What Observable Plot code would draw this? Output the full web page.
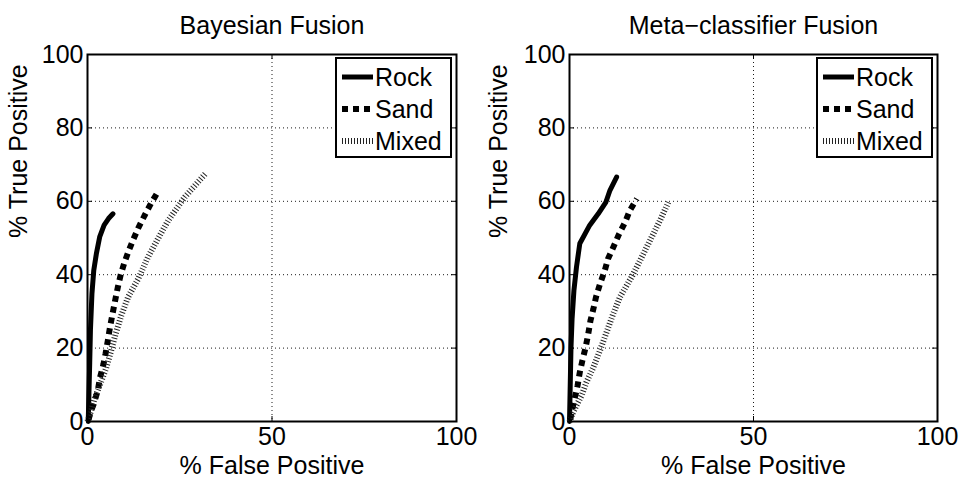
<!DOCTYPE html>
<html>
<head>
<meta charset="utf-8">
<script src="https://cdn.jsdelivr.net/npm/d3@7"></script>
<script src="https://cdn.jsdelivr.net/npm/@observablehq/plot@0.6"></script>
<style>
  html, body { margin: 0; padding: 0; background: white; }
  #wrap { display: flex; width: 960px; height: 477px; }
  .panel { position: relative; width: 480px; height: 477px; }
  .legend { position: absolute; }
  svg { display: block; }
</style>
</head>
<body>
<div id="wrap"></div>
<script>
// ---------- data ----------
const titles = ["Bayesian Fusion", "Meta\u2212classifier Fusion"];
const seriesNames = ["Rock", "Sand", "Mixed"];
const xTicks = [0, 50, 100];
const yTicks = [0, 20, 40, 60, 80, 100];
const xGrid = [50];
const yGrid = [20, 40, 60, 80];
const xLabel = "% False Positive";
const yLabel = "% True Positive";

// Bayesian Fusion
const bayesRockX  = [0.2, 0.4, 0.6, 0.8, 1.2, 1.7, 2.4, 3.3, 4.5, 5.7, 6.9];
const bayesRockY  = [0, 8, 16, 25, 34.8, 41.2, 45.7, 50.3, 53.5, 55.3, 56.6];
const bayesSandX  = [0.3, 0.8, 1.7, 2.8, 3.4, 4.3, 4.9, 5.5, 6.1, 6.8, 7.5, 8.2, 9.0, 10.0, 11.2, 12.4, 13.8, 15.4, 17.2, 19.2];
const bayesSandY  = [0.5, 2.5, 4.8, 8.5, 12.0, 15.5, 18.5, 22.0, 25.7, 29.4, 33.0, 36.5, 40.0, 43.3, 46.6, 49.6, 52.8, 56.0, 59.4, 62.8];
const bayesMixedX = [0, 1.0, 1.9, 3.3, 5.0, 6.3, 7.6, 9.2, 11.0, 13.7, 16.4, 19.2, 21.9, 26.4, 31.9];
const bayesMixedY = [0, 3.0, 6.2, 9.8, 14.4, 18.9, 23.8, 29.0, 33.9, 38.8, 44.8, 50.0, 54.8, 61.2, 67.5];

// Meta-classifier Fusion
const metaRockX  = [0, 0.2, 0.4, 0.7, 1.2, 1.9, 2.8, 5.5, 7.8, 9.9, 11.0, 12.8];
const metaRockY  = [0, 10, 20, 28, 35.7, 42.1, 48.5, 53.5, 56.6, 59.8, 63.0, 66.6];
const metaSandX  = [0.2, 0.8, 1.4, 2.2, 2.8, 3.5, 4.4, 5.1, 5.7, 6.5, 7.2, 8.3, 9.6, 10.5, 11.9, 13.3, 15.1, 16.4, 18.3];
const metaSandY  = [0.5, 3.5, 6.2, 9.8, 13.4, 16.6, 20.3, 23.9, 27.5, 30.7, 33.9, 37.5, 41.2, 44.4, 47.5, 50.7, 54.3, 57.5, 60.7];
const metaMixedX = [0, 0.8, 1.9, 3.3, 4.6, 6.5, 8.3, 10.1, 11.9, 13.7, 16.9, 19.2, 21.9, 24.6, 26.9];
const metaMixedY = [0, 2.1, 4.4, 7.1, 10.7, 14.8, 19.4, 24.4, 29.4, 33.9, 39.4, 43.9, 49.4, 54.8, 59.8];

// ---------- build ----------
const zip = (xs, ys) => xs.map((x, i) => ({x, y: ys[i]}));
const panels = [
  {title: titles[0], series: [zip(bayesRockX, bayesRockY), zip(bayesSandX, bayesSandY), zip(bayesMixedX, bayesMixedY)], ml: 87, mr: 24},
  {title: titles[1], series: [zip(metaRockX, metaRockY), zip(metaSandX, metaSandY), zip(metaMixedX, metaMixedY)], ml: 89, mr: 23}
];

const W = 480, H = 477, MT = 54, MB = 56;
const FONT = "'Liberation Sans', Arial, Helvetica, sans-serif";
const styles = [
  {stroke: "black", strokeWidth: 5, strokeLinecap: "round", strokeLinejoin: "round"},
  {stroke: "black", strokeWidth: 6, strokeDasharray: "6 5", strokeLinecap: "butt", strokeLinejoin: "round"},
  {stroke: "#222", strokeWidth: 6, strokeDasharray: "1 2", strokeLinecap: "butt", strokeLinejoin: "round"}
];

const wrap = document.getElementById("wrap");
for (const p of panels) {
  const innerW = W - p.ml - p.mr, innerH = H - MT - MB;
  const tick = 5;
  const chart = Plot.plot({
    width: W, height: H,
    marginLeft: p.ml, marginRight: p.mr, marginTop: MT, marginBottom: MB,
    x: {domain: [0, 100]},
    y: {domain: [0, 100]},
    style: {fontFamily: FONT, fontSize: "25px", color: "black", background: "white"},
    marks: [
      Plot.ruleX(xGrid, {x: d => d, stroke: "black", strokeWidth: 1, strokeDasharray: "1 3", strokeOpacity: 0.9}),
      Plot.ruleY(yGrid, {y: d => d, stroke: "black", strokeWidth: 1, strokeDasharray: "1 3", strokeOpacity: 0.9}),
      // inward ticks
      Plot.tickY(yTicks, {y: d => d, insetRight: innerW - tick, stroke: "black"}),
      Plot.tickY(yTicks, {y: d => d, insetLeft: innerW - tick, stroke: "black"}),
      Plot.tickX(xTicks, {x: d => d, insetTop: innerH - tick, stroke: "black"}),
      Plot.tickX(xTicks, {x: d => d, insetBottom: innerH - tick, stroke: "black"}),
      ...p.series.map((s, i) => Plot.line(s, {x: "x", y: "y", ...styles[i]})),
      Plot.frame({stroke: "black", strokeWidth: 2}),
      Plot.axisX({ticks: xTicks, tickSize: 0, tickPadding: 6, label: null, fontSize: 25, tickFormat: d => String(d)}),
      Plot.axisY({ticks: yTicks, tickSize: 0, tickPadding: 4, label: null, fontSize: 25, tickFormat: d => String(d)}),
      Plot.text([p.title], {text: d => d, frameAnchor: "top", dy: -29, fontSize: 25, lineAnchor: "middle"}),
      Plot.text([xLabel], {text: d => d, frameAnchor: "bottom", dy: 44, fontSize: 25, lineAnchor: "middle"}),
      Plot.text([yLabel], {text: d => d, frameAnchor: "left", dx: -p.ml + 18, rotate: -90, fontSize: 25, lineAnchor: "middle"})
    ]
  });
  const panel = document.createElement("div");
  panel.className = "panel";
  panel.appendChild(chart);

  // legend (top-right, inside the frame)
  const lw = 117, lh = 101, rowH = 32;
  const lx = W - p.mr - lw - 4, ly = MT + 3;
  const leg = d3.create("svg").attr("class", "legend").attr("width", lw).attr("height", lh)
    .style("left", lx + "px").style("top", ly + "px");
  leg.append("rect").attr("x", 1).attr("y", 1).attr("width", lw - 2).attr("height", lh - 2)
    .attr("fill", "white").attr("stroke", "black").attr("stroke-width", 2);
  seriesNames.forEach((name, i) => {
    const cy = 20 + i * rowH;
    const st = styles[i];
    leg.append("line").attr("x1", 7).attr("x2", 38).attr("y1", cy).attr("y2", cy)
      .attr("stroke", st.stroke).attr("stroke-width", st.strokeWidth)
      .attr("stroke-dasharray", st.strokeDasharray || null).attr("stroke-linecap", "butt");
    leg.append("text").attr("x", 40).attr("y", cy).attr("dy", "0.35em")
      .attr("font-family", FONT).attr("font-size", 25).text(name);
  });
  panel.appendChild(leg.node());
  wrap.appendChild(panel);
}
</script>
</body>
</html>
